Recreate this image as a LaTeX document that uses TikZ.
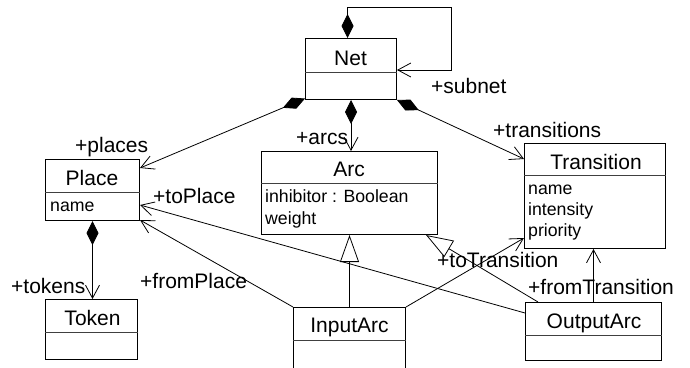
\documentclass[tikz,border=0pt]{standalone}
\usepackage{fontspec}
\setmainfont{Liberation Sans}
\usetikzlibrary{arrows.meta}

\tikzset{
  cls/.style={draw, line width=1pt, inner sep=0pt, anchor=north west},
  divider/.style={line width=0.8pt, black!75},
  nm/.style={font=\fontsize{21}{24}\selectfont, inner sep=0pt, anchor=base},
  attr/.style={font=\fontsize{17.7}{20}\selectfont, inner sep=0pt, anchor=base west},
  role/.style={font=\fontsize{21}{24}\selectfont, inner sep=0pt, anchor=base west},
  openhead/.tip={Straight Barb[length=13pt,width=14pt,line width=0.8pt]},
  assoc/.style={line width=0.8pt, -openhead},
  comp/.style={line width=0.8pt, {Diamond[length=24pt,width=12pt]}-openhead},
  gen/.style={line width=0.8pt, -{Triangle[open,length=27pt,width=19pt,line width=0.8pt]}},
}

\begin{document}
\begin{tikzpicture}[x=1pt,y=-1pt]
\useasboundingbox (0,0) rectangle (690,367);
\clip (0,0) rectangle (690,367);

% ---- classes ----
\node[cls, minimum width=91pt, minimum height=61pt] (net) at (305,38) {};
\draw[divider] (net.west |- 0,72) -- (net.east |- 0,72);
\node[nm] (netname) at (350.5,65) {Net};

\node[cls, minimum width=94pt, minimum height=61pt] (place) at (45,159) {};
\draw[divider] (place.west |- 0,192) -- (place.east |- 0,192);
\node[nm] (placename) at (92,185) {Place};
\node[attr] (placeattr) at (50,211) {name};

\node[cls, minimum width=92pt, minimum height=60pt] (token) at (45,299) {};
\draw[divider] (token.west |- 0,332) -- (token.east |- 0,332);
\node[nm] (tokenname) at (92.5,325) {Token};

\node[cls, minimum width=176pt, minimum height=83pt] (arc) at (261,151) {};
\draw[divider] (arc.west |- 0,183) -- (arc.east |- 0,183);
\node[nm] (arcname) at (349,176.5) {Arc};
\node[attr] (arcattr1) at (265,202.5) {inhibitor : Boolean};
\node[attr] (arcattr2) at (265,224) {weight};

\node[cls, minimum width=141pt, minimum height=105pt] (trans) at (524,143) {};
\draw[divider] (trans.west |- 0,175) -- (trans.east |- 0,175);
\node[nm] (transname) at (596,169) {Transition};
\node[attr] (transattr1) at (528,194) {name};
\node[attr] (transattr2) at (528,215.5) {intensity};
\node[attr] (transattr3) at (528,236.5) {priority};

\node[cls, minimum width=112pt, minimum height=75pt] (inarc) at (293,307) {};
\draw[divider] (inarc.west |- 0,340) -- (inarc.east |- 0,340);
\node[nm] (inarcname) at (349.5,332) {InputArc};

\node[cls, minimum width=136pt, minimum height=58pt] (outarc) at (525,302) {};
\draw[divider] (outarc.west |- 0,335) -- (outarc.east |- 0,335);
\node[nm] (outarcname) at (594,328) {OutputArc};

% ---- compositions ----
\draw[comp] ([xshift=-3.5pt]net.north) -- ++(0,-31) -- (451,7)
  -- (451,70) -- (net.east |- 0,70);
\draw[comp] ([yshift=1.5pt]net.south west) -- ([yshift=-9pt]place.north east);
\draw[comp] (net.south) -- (net.south |- arc.north);
\draw[comp] (net.south east) -- ([yshift=-16pt]trans.north west);
\draw[comp] (place.south) -- (place.south |- token.north);

% ---- generalizations ----
\draw[gen] (inarc.north) -- (inarc.north |- arc.south);
\draw[gen] ([xshift=13pt]outarc.north west) -- ([xshift=-12pt]arc.south east);

% ---- associations ----
\draw[assoc] ([yshift=-11pt]outarc.north west) -- ([yshift=-46pt]place.north east);
\draw[assoc] (inarc.north west) -- ([yshift=1pt]place.south east);
\draw[assoc] (inarc.north east) -- ([yshift=11pt]trans.south west);
\draw[assoc] (outarc.north) -- (outarc.north |- trans.south);

% ---- role names ----
\node[role] (rplaces) at (75,152) {+places};
\node[role] (rtoplace) at (153,203) {+toPlace};
\node[role] (rarcs) at (296,144) {+arcs};
\node[role] (rsubnet) at (431,93) {+subnet};
\node[role] (rtrans) at (493,137) {+transitions};
\node[role] (rtotrans) at (437,267) {+toTransition};
\node[role] (rfromtrans) at (528,294) {+fromTransition};
\node[role] (rtokens) at (11,293) {+tokens};
\node[role] (rfromplace) at (140,288) {+fromPlace};
\end{tikzpicture}
\end{document}
